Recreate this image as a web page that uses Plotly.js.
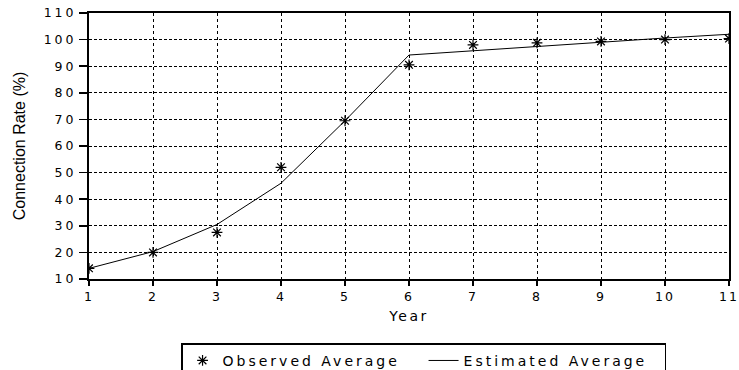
<!DOCTYPE html>
<html>
<head>
<meta charset="utf-8">
<script src="https://cdn.plot.ly/plotly-3.0.1.min.js"></script>
<style>
html,body{margin:0;padding:0;background:#fff;}
.xtick text { letter-spacing: 2px; }
.ytick text { letter-spacing: 3px; }
.legendtext { letter-spacing: 3px; }
.g-xtitle text, .xtitle { letter-spacing: 2.5px; }
</style>
</head>
<body>
<div id="chart" style="width:739px;height:370px;"></div>
<script>
const years = [1, 2, 3, 4, 5, 6, 7, 8, 9, 10, 11];
const observedAverage = [14, 20, 27.5, 52, 69.5, 90.5, 98, 98.8, 99.3, 100, 100.4];
const estimatedAverage = [14, 20.3, 30.5, 46, 69.5, 94.2, 95.8, 97.4, 99.2, 100.6, 102];
const yTicks = [10, 20, 30, 40, 50, 60, 70, 80, 90, 100, 110];

const traces = [
  {
    x: years, y: observedAverage, name: 'Observed Average',
    mode: 'markers', type: 'scatter',
    marker: {symbol: 'asterisk-open', size: 9, color: '#000', line: {color: '#000', width: 1.2}}
  },
  {
    x: years, y: estimatedAverage, name: 'Estimated Average',
    mode: 'lines', type: 'scatter',
    line: {color: '#000', width: 1}
  }
];

const layout = {
  width: 739, height: 370,
  margin: {l: 89, r: 10, t: 13, b: 91},
  paper_bgcolor: '#fff', plot_bgcolor: '#fff',
  font: {family: 'DejaVu Sans, sans-serif', size: 13, color: '#000'},
  showlegend: true,
  legend: {
    orientation: 'h', xref: 'container', yref: 'container',
    x: 0.245, y: 0.072, xanchor: 'left', yanchor: 'top',
    bordercolor: '#000', borderwidth: 1.5, bgcolor: '#fff',
    font: {family: 'DejaVu Sans, sans-serif', size: 14, color: '#000'},
    itemwidth: 30, entrywidth: 196, tracegroupgap: 0
  },
  xaxis: {
    range: [1, 11], tickvals: years, ticktext: years.map(String),
    showline: true, mirror: true, linecolor: '#000', linewidth: 2,
    ticks: 'outside', ticklen: 5, tickcolor: '#000', tickwidth: 1.5,
    showgrid: true, gridcolor: '#000', gridwidth: 1, griddash: 'dot',
    zeroline: false, automargin: false, ticklabeloverflow: 'allow',
    tickfont: {family: 'DejaVu Sans, sans-serif', size: 12.5},
    title: {text: 'Year', font: {family: 'DejaVu Sans, sans-serif', size: 14}, standoff: 8}
  },
  yaxis: {
    range: [10, 110], tickvals: yTicks,
    showline: true, mirror: true, linecolor: '#000', linewidth: 2,
    ticks: 'outside', ticklen: 8, tickcolor: '#000', tickwidth: 1.5,
    showgrid: true, gridcolor: '#000', gridwidth: 1, griddash: '3px,2px',
    zeroline: false, automargin: false,
    tickfont: {family: 'DejaVu Sans, sans-serif', size: 12.5},
    title: {text: 'Connection Rate (%)', font: {family: 'Liberation Sans, Arial, sans-serif', size: 16}, standoff: 14}
  }
};

Plotly.newPlot('chart', traces, layout, {staticPlot: true, displayModeBar: false});
</script>
</body>
</html>
